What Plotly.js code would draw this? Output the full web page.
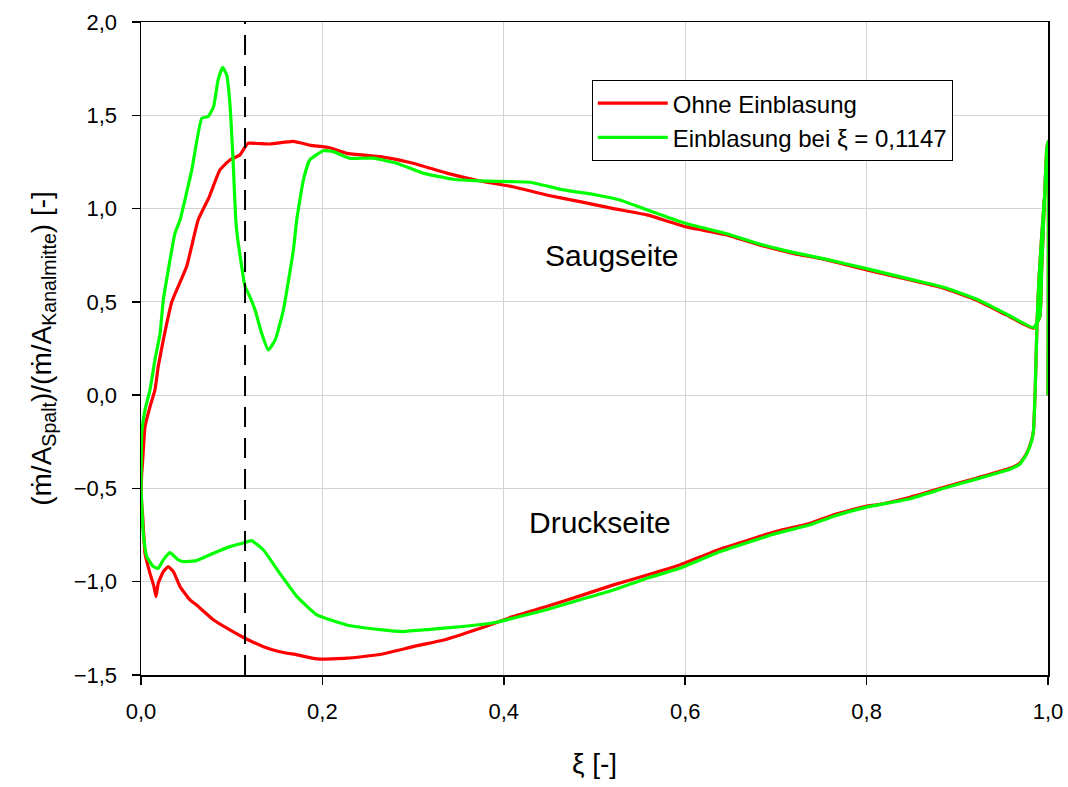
<!DOCTYPE html>
<html>
<head>
<meta charset="utf-8">
<script src="https://cdn.plot.ly/plotly-3.0.1.min.js"></script>
<style>body{margin:0;background:#fff}#chart{width:1068px;height:787px}</style>
</head>
<body>
<div id="chart"></div>
<script>
// Ohne Einblasung (red) - Saugseite
const xiRedSS = [0, 0.0008, 0.0019, 0.0044, 0.0099, 0.0154, 0.019, 0.0246, 0.034, 0.0503, 0.063, 0.075, 0.087, 0.098, 0.109, 0.1147, 0.118, 0.142, 0.168, 0.186, 0.208, 0.227, 0.264, 0.30, 0.337, 0.374, 0.41, 0.447, 0.484, 0.521, 0.558, 0.6, 0.646, 0.682, 0.719, 0.756, 0.80, 0.848, 0.885, 0.921, 0.954, 0.984, 0.991, 0.993, 0.9967, 0.9985, 1.0, 1.0];
const redSS = [-0.5, -0.42, -0.347, -0.169, -0.062, 0.028, 0.153, 0.296, 0.5, 0.689, 0.939, 1.06, 1.207, 1.26, 1.287, 1.33, 1.35, 1.346, 1.36, 1.34, 1.326, 1.296, 1.278, 1.243, 1.19, 1.148, 1.117, 1.073, 1.037, 1.0, 0.966, 0.903, 0.859, 0.805, 0.76, 0.725, 0.671, 0.617, 0.573, 0.51, 0.43, 0.359, 0.42, 0.67, 1.12, 1.31, 1.36, 0.0];
// Ohne Einblasung (red) - Druckseite
const xiRedPS = [0, 0.0008, 0.0019, 0.0044, 0.0099, 0.0143, 0.0165, 0.019, 0.0246, 0.030, 0.0357, 0.043, 0.054, 0.061, 0.080, 0.098, 0.1147, 0.135, 0.153, 0.172, 0.194, 0.227, 0.2635, 0.30, 0.337, 0.374, 0.41, 0.447, 0.484, 0.521, 0.558, 0.594, 0.638, 0.70, 0.738, 0.763, 0.80, 0.811, 0.848, 0.888, 0.921, 0.958, 0.969, 0.9765, 0.982, 0.984, 0.986, 0.988, 0.990, 0.993, 0.996];
const redPS = [-0.5, -0.58, -0.651, -0.847, -0.955, -1.026, -1.08, -1.008, -0.946, -0.919, -0.946, -1.026, -1.097, -1.124, -1.205, -1.258, -1.303, -1.348, -1.375, -1.392, -1.414, -1.41, -1.39, -1.348, -1.308, -1.25, -1.187, -1.133, -1.076, -1.017, -0.964, -0.91, -0.826, -0.731, -0.687, -0.642, -0.594, -0.588, -0.547, -0.49, -0.445, -0.392, -0.365, -0.311, -0.24, -0.19, 0.046, 0.40, 0.617, 0.85, 1.05];
// Einblasung bei xi = 0,1147 (green) - Saugseite
const xiGreenSS = [0, 0.0008, 0.0044, 0.0099, 0.0154, 0.021, 0.0246, 0.0375, 0.043, 0.056, 0.067, 0.074, 0.080, 0.085, 0.090, 0.0945, 0.098, 0.1015, 0.1045, 0.1065, 0.111, 0.1147, 0.120, 0.1257, 0.133, 0.1404, 0.148, 0.157, 0.168, 0.1717, 0.179, 0.186, 0.201, 0.212, 0.230, 0.256, 0.282, 0.311, 0.344, 0.374, 0.41, 0.429, 0.466, 0.502, 0.528, 0.558, 0.6, 0.646, 0.682, 0.719, 0.756, 0.80, 0.848, 0.885, 0.921, 0.954, 0.984, 0.991, 0.993, 0.9967, 0.9985, 1.0, 1.0];
const greenSS = [-0.5, -0.2, -0.08, 0.028, 0.19, 0.33, 0.51, 0.868, 0.939, 1.207, 1.484, 1.493, 1.546, 1.69, 1.757, 1.716, 1.564, 1.26, 0.94, 0.84, 0.689, 0.582, 0.528, 0.457, 0.332, 0.242, 0.296, 0.457, 0.778, 0.939, 1.153, 1.26, 1.31, 1.305, 1.27, 1.27, 1.243, 1.19, 1.157, 1.148, 1.144, 1.141, 1.10, 1.073, 1.046, 0.993, 0.921, 0.865, 0.81, 0.765, 0.728, 0.678, 0.622, 0.578, 0.515, 0.435, 0.362, 0.42, 0.67, 1.12, 1.31, 1.36, 0.0];
// Einblasung bei xi = 0,1147 (green) - Druckseite
const xiGreenPS = [0, 0.0008, 0.0025, 0.0063, 0.0136, 0.019, 0.0246, 0.032, 0.041, 0.047, 0.061, 0.080, 0.098, 0.1147, 0.122, 0.135, 0.153, 0.172, 0.194, 0.227, 0.2635, 0.289, 0.319, 0.355, 0.392, 0.41, 0.447, 0.484, 0.521, 0.558, 0.594, 0.638, 0.70, 0.738, 0.763, 0.80, 0.848, 0.888, 0.921, 0.958, 0.969, 0.9765, 0.982, 0.984, 0.986, 0.988, 0.990, 0.993, 0.996];
const greenPS = [-0.5, -0.59, -0.74, -0.865, -0.919, -0.928, -0.883, -0.844, -0.883, -0.892, -0.887, -0.847, -0.812, -0.79, -0.78, -0.83, -0.955, -1.08, -1.178, -1.232, -1.257, -1.267, -1.255, -1.24, -1.217, -1.196, -1.15, -1.097, -1.044, -0.981, -0.928, -0.84, -0.742, -0.695, -0.65, -0.6, -0.555, -0.495, -0.45, -0.397, -0.37, -0.315, -0.245, -0.19, 0.046, 0.40, 0.617, 0.85, 1.05];

const seriesNames = ["Ohne Einblasung", "Einblasung bei ξ = 0,1147"];
const injectionXi = 0.1147;
const xTicks = [0, 0.2, 0.4, 0.6, 0.8, 1.0];
const yTicks = [-1.5, -1.0, -0.5, 0.0, 0.5, 1.0, 1.5, 2.0];

const RED = "#ff0000", GREEN = "#00ff00";
const FONT = "Liberation Sans, Arial, sans-serif";
const LINE = (c) => ({color: c, width: 3.2, shape: "spline", smoothing: 0.4});

const traces = [
  {x: xiRedSS, y: redSS, mode: "lines", name: seriesNames[0], legendgroup: "r", line: LINE(RED)},
  {x: xiRedPS, y: redPS, mode: "lines", name: seriesNames[0], legendgroup: "r", showlegend: false, line: LINE(RED)},
  {x: xiGreenSS, y: greenSS, mode: "lines", name: seriesNames[1], legendgroup: "g", line: LINE(GREEN)},
  {x: xiGreenPS, y: greenPS, mode: "lines", name: seriesNames[1], legendgroup: "g", showlegend: false, line: LINE(GREEN)}
];

const layout = {
  width: 1068, height: 787,
  margin: {l: 141, r: 20, t: 22, b: 112},
  paper_bgcolor: "#fff", plot_bgcolor: "#fff",
  separators: ",.",
  font: {family: FONT, size: 22, color: "#000"},
  showlegend: true,
  legend: {
    x: 0.497, y: 0.911, xanchor: "left", yanchor: "top",
    bordercolor: "#000", borderwidth: 1, bgcolor: "#fff",
    font: {family: FONT, size: 24, color: "#000"},
    itemwidth: 70, tracegroupgap: 0
  },
  xaxis: {
    range: [0, 1.0], tickvals: xTicks, tickformat: ".1f",
    showgrid: true, gridcolor: "#d3d3d3", gridwidth: 1,
    zeroline: false, showline: true, linecolor: "#000", linewidth: 1.5, mirror: true,
    ticks: "outside", ticklen: 8, tickcolor: "#000", tickwidth: 1.5,
    ticklabelstandoff: 8,
    tickfont: {family: FONT, size: 22, color: "#000"},
    title: {text: "ξ [-]", font: {family: FONT, size: 28, color: "#000"}, standoff: 30}
  },
  yaxis: {
    range: [-1.5, 2.0], tickvals: yTicks, tickformat: ".1f",
    showgrid: true, gridcolor: "#d3d3d3", gridwidth: 1,
    zeroline: false, showline: true, linecolor: "#000", linewidth: 1.5, mirror: true,
    ticks: "outside", ticklen: 8, tickcolor: "#000", tickwidth: 1.5,
    ticklabelstandoff: 10,
    tickfont: {family: FONT, size: 22, color: "#000"},
    title: {text: "(ṁ/A<sub>Spalt</sub>)/(ṁ/A<sub>Kanalmitte</sub>) [-]", font: {family: FONT, size: 28, color: "#000"}, standoff: 14}
  },
  shapes: [{
    type: "line", xref: "x", yref: "paper", x0: injectionXi, x1: injectionXi, y0: 0, y1: 1,
    line: {color: "#000", width: 2, dash: "20px,11px"}
  }],
  annotations: [
    {x: 0.519, y: 0.75, xref: "x", yref: "y", text: "Saugseite", showarrow: false, font: {family: FONT, size: 30, color: "#000"}},
    {x: 0.506, y: -0.685, xref: "x", yref: "y", text: "Druckseite", showarrow: false, font: {family: FONT, size: 30, color: "#000"}}
  ]
};

Plotly.newPlot("chart", traces, layout, {displayModeBar: false, staticPlot: true});
</script>
</body>
</html>
